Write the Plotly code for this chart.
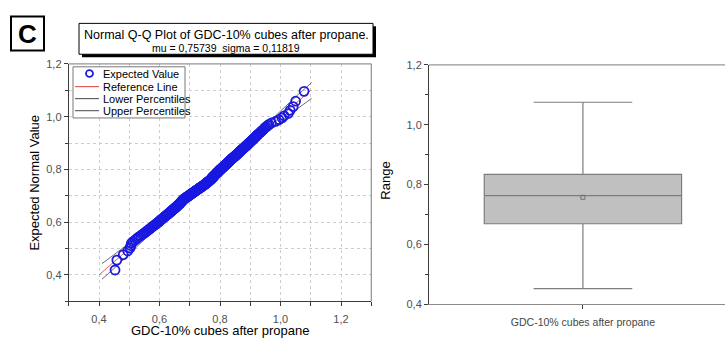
from statistics import NormalDist

import plotly.graph_objects as go

W, H = 725, 344
FONT = "Liberation Sans, Arial, sans-serif"

# Sorted measurements (GDC-10% cubes after propane)
SAMPLE = [
    0.453, 0.459, 0.480, 0.495, 0.503, 0.505, 0.507, 0.512, 0.520, 0.526, 0.531, 0.538, 0.543, 0.548, 0.553,
    0.557, 0.561, 0.565, 0.569, 0.572, 0.575, 0.579, 0.582, 0.585, 0.588, 0.591, 0.594, 0.596, 0.599, 0.601,
    0.603, 0.605, 0.607, 0.610, 0.612, 0.614, 0.616, 0.618, 0.620, 0.622, 0.624, 0.626, 0.628, 0.630, 0.631,
    0.633, 0.635, 0.637, 0.638, 0.640, 0.641, 0.643, 0.644, 0.646, 0.647, 0.649, 0.650, 0.652, 0.653, 0.655,
    0.656, 0.657, 0.659, 0.660, 0.661, 0.662, 0.664, 0.665, 0.666, 0.667, 0.668, 0.669, 0.670, 0.671, 0.672,
    0.673, 0.674, 0.675, 0.676, 0.677, 0.678, 0.679, 0.680, 0.681, 0.682, 0.684, 0.685, 0.686, 0.688, 0.690,
    0.691, 0.693, 0.694, 0.696, 0.697, 0.698, 0.700, 0.701, 0.702, 0.704, 0.705, 0.706, 0.707, 0.709, 0.710,
    0.711, 0.713, 0.714, 0.715, 0.717, 0.718, 0.719, 0.720, 0.722, 0.723, 0.724, 0.726, 0.727, 0.728, 0.730,
    0.731, 0.732, 0.733, 0.735, 0.736, 0.737, 0.738, 0.740, 0.741, 0.742, 0.743, 0.745, 0.746, 0.747, 0.749,
    0.750, 0.751, 0.752, 0.753, 0.754, 0.755, 0.756, 0.757, 0.758, 0.759, 0.760, 0.761, 0.762, 0.763, 0.764,
    0.766, 0.767, 0.768, 0.768, 0.769, 0.770, 0.771, 0.772, 0.772, 0.773, 0.774, 0.775, 0.776, 0.776, 0.777,
    0.778, 0.779, 0.780, 0.781, 0.781, 0.782, 0.783, 0.784, 0.785, 0.786, 0.787, 0.787, 0.788, 0.789, 0.790,
    0.791, 0.792, 0.793, 0.794, 0.795, 0.796, 0.796, 0.797, 0.798, 0.799, 0.800, 0.801, 0.802, 0.803, 0.804,
    0.805, 0.806, 0.807, 0.808, 0.809, 0.810, 0.811, 0.812, 0.813, 0.814, 0.815, 0.816, 0.817, 0.818, 0.820,
    0.821, 0.822, 0.823, 0.824, 0.825, 0.826, 0.827, 0.828, 0.829, 0.830, 0.831, 0.832, 0.833, 0.834, 0.835,
    0.836, 0.838, 0.839, 0.840, 0.842, 0.843, 0.844, 0.846, 0.847, 0.848, 0.850, 0.851, 0.852, 0.854, 0.855,
    0.856, 0.858, 0.859, 0.860, 0.862, 0.863, 0.864, 0.865, 0.867, 0.868, 0.870, 0.871, 0.873, 0.875, 0.876,
    0.878, 0.880, 0.881, 0.883, 0.885, 0.886, 0.888, 0.890, 0.892, 0.894, 0.895, 0.897, 0.899, 0.901, 0.903,
    0.905, 0.907, 0.909, 0.912, 0.914, 0.916, 0.918, 0.921, 0.923, 0.926, 0.929, 0.932, 0.935, 0.938, 0.942,
    0.945, 0.948, 0.952, 0.957, 0.962, 0.970, 0.984, 0.995, 1.005, 1.012, 1.026, 1.032, 1.042, 1.050, 1.078,
]

MU = 0.75739
SIGMA = 0.11819

# Reference line and percentile envelopes
REF_X = [0.40, 1.10]
PCT_X = [0.41, 0.45, 0.50, 0.55, 0.60, 0.65, 0.70, 0.757, 0.80, 0.85, 0.90, 0.95, 1.00, 1.05, 1.103]
UPPER_Y = [0.443, 0.477, 0.521, 0.566, 0.612, 0.659, 0.707, 0.763, 0.807, 0.859, 0.912, 0.966, 1.021, 1.075, 1.129]
LOWER_Y = [0.384, 0.425, 0.480, 0.534, 0.588, 0.641, 0.693, 0.751, 0.793, 0.841, 0.888, 0.934, 0.980, 1.025, 1.069]

# Box chart statistics
BOX_CATEGORY = "GDC-10% cubes after propane"
BOX_Q1 = 0.669
BOX_MEDIAN = 0.763
BOX_Q3 = 0.834
BOX_LOW = 0.452
BOX_HIGH = 1.075

TITLE = "Normal Q-Q Plot of GDC-10% cubes after propane."
SUBTITLE = (f"mu = {MU:.5f}\u00a0\u00a0sigma = {SIGMA:.5f}").replace(".", ",")

# Expected normal values (Blom plotting positions)
n = len(SAMPLE)
dist = NormalDist(MU, SIGMA)
expected = [dist.inv_cdf((i + 1 - 0.375) / (n + 0.25)) for i in range(n)]


def px(x):
    return x / W


def py(y):
    return 1 - y / H


BLUE = "rgb(25,25,225)"
RED = "rgb(230,90,90)"
GREY_LINE = "rgb(70,70,70)"

fig = go.Figure()

fig.add_trace(go.Scatter(x=REF_X, y=REF_X, mode="lines",
                         line=dict(color=RED, width=1), xaxis="x", yaxis="y"))
fig.add_trace(go.Scatter(x=PCT_X, y=LOWER_Y, mode="lines", line_shape="spline",
                         line=dict(color=GREY_LINE, width=0.8), xaxis="x", yaxis="y"))
fig.add_trace(go.Scatter(x=PCT_X, y=UPPER_Y, mode="lines", line_shape="spline",
                         line=dict(color=GREY_LINE, width=0.8), xaxis="x", yaxis="y"))
fig.add_trace(go.Scatter(x=SAMPLE, y=expected, mode="markers",
                         marker=dict(symbol="circle-open", size=9, color=BLUE,
                                     line=dict(width=1.8, color=BLUE)),
                         xaxis="x", yaxis="y"))

fig.add_trace(go.Box(x=[0], q1=[BOX_Q1], median=[BOX_MEDIAN], q3=[BOX_Q3],
                     lowerfence=[BOX_LOW], upperfence=[BOX_HIGH],
                     width=1.0, whiskerwidth=0.5, fillcolor="rgb(192,192,192)",
                     line=dict(color="rgb(125,125,125)", width=1.2),
                     boxpoints=False, xaxis="x2", yaxis="y2"))
fig.add_trace(go.Scatter(x=[0], y=[MU], mode="markers",
                         marker=dict(symbol="square-open", size=4, color="rgb(110,110,110)",
                                     line=dict(width=1)),
                         xaxis="x2", yaxis="y2"))

axis_common = dict(
    showline=True, linecolor="rgb(60,60,60)", linewidth=1,
    ticks="outside", ticklen=4, tickcolor="rgb(60,60,60)",
    tickfont=dict(family=FONT, size=11, color="rgb(80,80,80)"),
    zeroline=False, tickformat=".1f",
)

fig.update_layout(
    width=W, height=H,
    margin=dict(l=0, r=0, t=0, b=0),
    paper_bgcolor="white", plot_bgcolor="white",
    showlegend=False,
    separators=", ",
    font=dict(family=FONT, color="black"),
    xaxis=dict(axis_common, domain=[px(68.75), px(371.25)], range=[0.3, 1.3],
               tick0=0.4, dtick=0.2, showgrid=True, gridcolor="rgb(205,205,205)",
               griddash="dot", gridwidth=1, anchor="y", ticklabelstandoff=3,
               minor=dict(dtick=0.1, tick0=0.3, ticks="outside", ticklen=4,
                          tickcolor="rgb(60,60,60)", showgrid=True,
                          gridcolor="rgb(205,205,205)", griddash="dot")),
    yaxis=dict(axis_common, domain=[py(306), py(60)], range=[0.3, 1.2],
               tick0=0.4, dtick=0.2, showgrid=True, gridcolor="rgb(205,205,205)",
               griddash="dot", gridwidth=1, anchor="x",
               minor=dict(dtick=0.1, tick0=0.3, ticks="outside", ticklen=3,
                          tickcolor="rgb(60,60,60)", showgrid=True,
                          gridcolor="rgb(205,205,205)", griddash="dot")),
    xaxis2=dict(showline=True, linecolor="rgb(140,140,140)", linewidth=1,
                domain=[px(429), 1.0], range=[-0.78, 0.72], anchor="y2",
                tickvals=[0], ticktext=[BOX_CATEGORY], ticks="outside", ticklen=4,
                tickcolor="rgb(60,60,60)", showgrid=False, zeroline=False,
                ticklabelstandoff=4,
                tickfont=dict(family=FONT, size=10.5, color="rgb(70,70,70)")),
    yaxis2=dict(axis_common, domain=[py(309), py(61)], range=[0.4, 1.2],
                tick0=0.4, dtick=0.2, showgrid=False, anchor="x2",
                minor=dict(dtick=0.1, tick0=0.4, ticks="outside", ticklen=3,
                           tickcolor="rgb(60,60,60)", showgrid=False)),
)

shapes = [
    # frame of the Q-Q plot (top and right)
    dict(type="line", xref="x domain", yref="y domain", x0=0, x1=1, y0=1, y1=1,
         line=dict(color="rgb(120,120,120)", width=1)),
    dict(type="line", xref="x domain", yref="y domain", x0=1, x1=1, y0=0, y1=1,
         line=dict(color="rgb(120,120,120)", width=1)),
    # top line of the box chart
    dict(type="line", xref="x2 domain", yref="y2 domain", x0=0, x1=1, y0=1, y1=1,
         line=dict(color="rgb(150,150,150)", width=1.2)),
    # panel letter box
    dict(type="rect", xref="paper", yref="paper", x0=px(11), x1=px(44), y0=py(46), y1=py(11),
         line=dict(color="black", width=2), fillcolor="white"),
    # title box with drop shadow
    dict(type="rect", xref="paper", yref="paper", x0=px(82), x1=px(376), y0=py(53), y1=py(21),
         line=dict(width=0), fillcolor="black"),
    dict(type="rect", xref="paper", yref="paper", x0=px(79), x1=px(373), y0=py(50), y1=py(18),
         line=dict(color="black", width=1), fillcolor="white"),
    # legend box
    dict(type="rect", xref="paper", yref="paper", x0=px(73), x1=px(185), y0=py(116), y1=py(63),
         line=dict(color="rgb(120,120,120)", width=1), fillcolor="white"),
    # legend samples
    dict(type="circle", xref="paper", yref="paper", x0=px(86), x1=px(93), y0=py(73.5), y1=py(66.5),
         line=dict(color=BLUE, width=1.8)),
    dict(type="line", xref="paper", yref="paper", x0=px(75), x1=px(99), y0=py(83.5), y1=py(83.5),
         line=dict(color=RED, width=1.2)),
    dict(type="line", xref="paper", yref="paper", x0=px(75), x1=px(99), y0=py(96), y1=py(96),
         line=dict(color=GREY_LINE, width=1)),
    dict(type="line", xref="paper", yref="paper", x0=px(75), x1=px(99), y0=py(108.5), y1=py(108.5),
         line=dict(color=GREY_LINE, width=1)),
]

annotations = [
    dict(text="<b>C</b>", x=px(27.5), y=py(28.5), font=dict(family=FONT, size=26, color="black")),
    dict(text=TITLE, x=px(226), y=py(30), font=dict(family=FONT, size=12.5, color="black")),
    dict(text=SUBTITLE, x=px(226), y=py(44), font=dict(family=FONT, size=10.5, color="black")),
    dict(text="Expected Normal Value", x=px(35), y=py(183), textangle=-90,
         font=dict(family=FONT, size=13, color="black")),
    dict(text="GDC-10% cubes after propane", x=px(220), y=py(336),
         font=dict(family=FONT, size=13, color="black")),
    dict(text="Range", x=px(386), y=py(181), textangle=-90,
         font=dict(family=FONT, size=13, color="black")),
]
legend_labels = [("Expected Value", 70), ("Reference Line", 83.5),
                 ("Lower Percentiles", 96), ("Upper Percentiles", 108.5)]
for label, yy in legend_labels:
    annotations.append(dict(text=label, x=px(101), y=py(yy), xanchor="left",
                            font=dict(family=FONT, size=11, color="black")))

for a in annotations:
    a.setdefault("xanchor", "center")
    a.update(xref="paper", yref="paper", yanchor="middle", showarrow=False)

fig.update_layout(shapes=shapes, annotations=annotations)

fig.write_html("out.html")
